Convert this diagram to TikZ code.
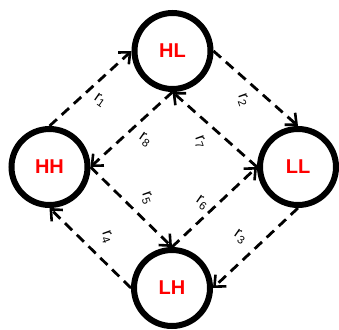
\documentclass[tikz,border=0pt]{standalone}
\usepackage{fontspec}
\setmainfont{Liberation Sans}
\usetikzlibrary{arrows.meta}
\begin{document}
\begin{tikzpicture}[x=1pt,y=-1pt,
  state/.style={circle,draw=black,line width=6pt,minimum size=76pt,inner sep=0pt,
    text=red,font=\fontsize{20}{22}\selectfont\bfseries},
  trans/.style={line width=2.8pt,dash pattern=on 10pt off 6.5pt,
    -{Straight Barb[length=9pt,width=16pt,line width=2.6pt]}},
  rate/.style={font=\fontsize{16}{18}\selectfont,inner sep=1pt}]
\useasboundingbox (0,0) rectangle (339,329);
\node[state] (HL) at (172.5,51) {HL};
\node[state] (HH) at (49.5,167) {HH};
\node[state] (LL) at (298,167) {LL};
\node[state] (LH) at (172,288) {LH};
% outer cycle
\draw[trans] (HH.north) -- (HL.west);
\draw[trans] (HL.east) -- (LL.north);
\draw[trans] (LL.south) -- (LH.east);
\draw[trans] (LH.west) -- (HH.south);
% inner cycle
\draw[trans] (HL.south) -- (HH.east);
\draw[trans] (LL.west) -- (HL.south);
\draw[trans] (HH.east) -- (LH.north);
\draw[trans] (LH.north) -- (LL.west);
% rate labels
\node[rate,rotate=-35] (l1) at (100,100) {r\textsubscript{1}};
\node[rate,rotate=-70] (l2) at (243,100) {r\textsubscript{2}};
\node[rate,rotate=-35] (l8) at (145,140) {r\textsubscript{8}};
\node[rate,rotate=-70] (l7) at (200,142) {r\textsubscript{7}};
\node[rate,rotate=-70] (l5) at (147,198) {r\textsubscript{5}};
\node[rate,rotate=-35] (l6) at (202,203) {r\textsubscript{6}};
\node[rate,rotate=-70] (l4) at (107,237) {r\textsubscript{4}};
\node[rate,rotate=-35] (l3) at (240,237) {r\textsubscript{3}};
\end{tikzpicture}
\end{document}
